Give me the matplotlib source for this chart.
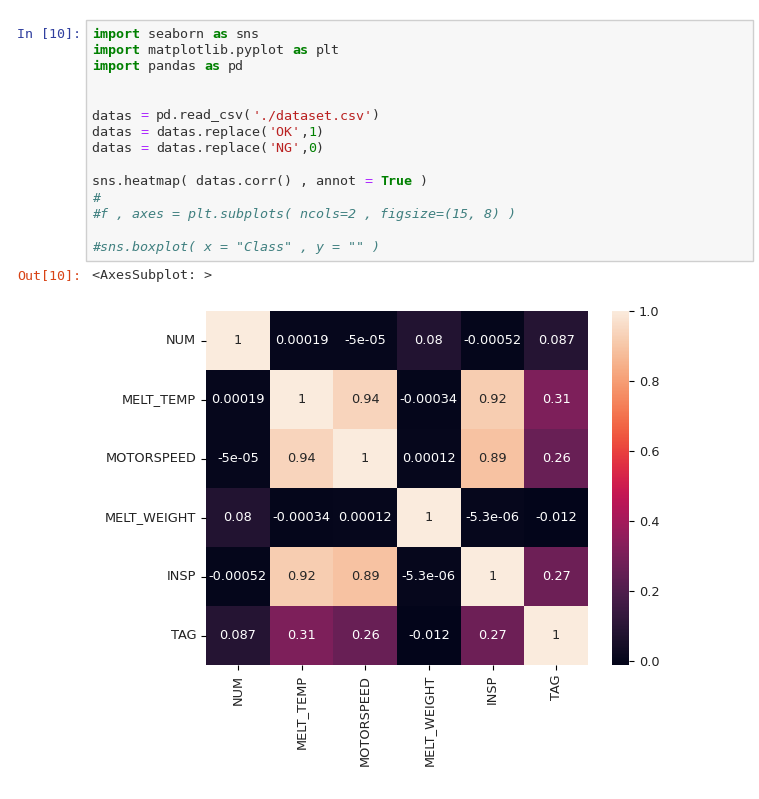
import numpy as np
import pandas as pd
import matplotlib
matplotlib.use("Agg")
import matplotlib.pyplot as plt
from matplotlib.patches import Rectangle
import seaborn as sns

# correlation table shown in the output cell
labels = ["NUM", "MELT_TEMP", "MOTORSPEED", "MELT_WEIGHT", "INSP", "TAG"]
row_num = [1, 0.00019, -5e-05, 0.08, -0.00052, 0.087]
row_melt_temp = [0.00019, 1, 0.94, -0.00034, 0.92, 0.31]
row_motorspeed = [-5e-05, 0.94, 1, 0.00012, 0.89, 0.26]
row_melt_weight = [0.08, -0.00034, 0.00012, 1, -5.3e-06, -0.012]
row_insp = [-0.00052, 0.92, 0.89, -5.3e-06, 1, 0.27]
row_tag = [0.087, 0.31, 0.26, -0.012, 0.27, 1]

corr = pd.DataFrame([row_num, row_melt_temp, row_motorspeed,
                     row_melt_weight, row_insp, row_tag],
                    index=labels, columns=labels)

# notebook code cell, as (text, style) tokens per line (None = blank line)
code_lines = [
    [("import", "kw"), (" seaborn ", "txt"), ("as", "kw"), (" sns", "txt")],
    [("import", "kw"), (" matplotlib.pyplot ", "txt"), ("as", "kw"), (" plt", "txt")],
    [("import", "kw"), (" pandas ", "txt"), ("as", "kw"), (" pd", "txt")],
    None,
    None,
    [("datas ", "txt"), ("=", "op"), (" pd.read_csv(", "txt"), ("'./dataset.csv'", "str"), (")", "txt")],
    [("datas ", "txt"), ("=", "op"), (" datas.replace(", "txt"), ("'OK'", "str"), (",", "txt"), ("1", "num"), (")", "txt")],
    [("datas ", "txt"), ("=", "op"), (" datas.replace(", "txt"), ("'NG'", "str"), (",", "txt"), ("0", "num"), (")", "txt")],
    None,
    [("sns.heatmap( datas.corr() , annot ", "txt"), ("=", "op"), (" ", "txt"), ("True", "kw"), (" )", "txt")],
    [("#", "com")],
    [("#f , axes = plt.subplots( ncols=2 , figsize=(15, 8) )", "com")],
    None,
    [('#sns.boxplot( x = "Class" , y = "" )', "com")],
]

styles = {
    "kw":  dict(color="#008000", fontweight="bold"),
    "txt": dict(color="#333333"),
    "op":  dict(color="#AA22FF"),
    "str": dict(color="#BA2121"),
    "num": dict(color="#008000"),
    "com": dict(color="#408080", fontstyle="italic"),
}

W, H = 759, 799
fig = plt.figure(figsize=(W / 100, H / 100), dpi=100)

def fx(x):
    return x / W

def fy(y):
    return 1 - y / H

mono = "DejaVu Sans Mono"
fs = 9.6      # ~8 px per character
cw = 8.0      # char width in px
x0 = 92
y0 = 34
lh = 16.4

# code cell background
fig.patches.append(Rectangle((fx(86), fy(261)), fx(753) - fx(86), fy(20) - fy(261),
                             transform=fig.transFigure, facecolor="#f7f7f7",
                             edgecolor="#cfcfcf", lw=1))

fig.text(fx(17), fy(y0), "In [10]:", family=mono, size=fs, color="#303F9F",
         ha="left", va="center")

for i, line in enumerate(code_lines):
    if line is None:
        continue
    col = 0
    for tok, st in line:
        stripped = tok.lstrip()
        lead = len(tok) - len(stripped)
        if stripped:
            fig.text(fx(x0 + (col + lead) * cw), fy(y0 + i * lh), stripped,
                     family=mono, size=fs, ha="left", va="center", **styles[st])
        col += len(tok)

fig.text(fx(17), fy(276), "Out[10]:", family=mono, size=fs, color="#D84315",
         ha="left", va="center")
fig.text(fx(x0), fy(276), "<AxesSubplot: >", family=mono, size=fs, color="#333333",
         ha="left", va="center")

# heatmap output
ax = fig.add_axes([fx(206), fy(665), fx(588) - fx(206), fy(311) - fy(665)])
cax = fig.add_axes([fx(612), fy(665), fx(629) - fx(612), fy(311) - fy(665)])
sns.heatmap(corr, annot=True, ax=ax, cbar_ax=cax, annot_kws={"size": 9.3})

ax.set_xticklabels(labels, rotation=90, fontsize=9.3, color="#222222")
ax.set_yticklabels(labels, rotation=0, fontsize=9.3, color="#222222")
cax.tick_params(labelsize=9.3, labelcolor="#222222")

fig.savefig("out.png", dpi=100)
